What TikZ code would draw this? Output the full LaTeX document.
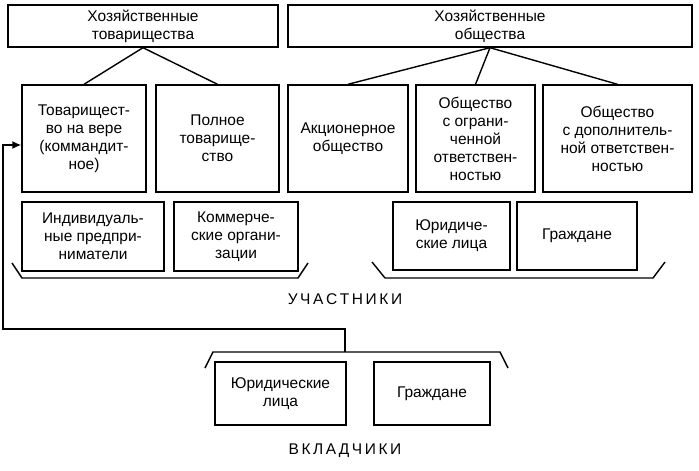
\documentclass[tikz,border=0pt]{standalone}
\usepackage{fontspec}
\setmainfont{Liberation Sans}
\usetikzlibrary{arrows.meta}
\begin{document}
\begin{tikzpicture}[x=1pt,y=-1pt,line width=1.4pt,
 bx/.style={draw,align=center,font=\fontsize{15.5}{18}\selectfont,inner sep=0pt}]
\useasboundingbox (0,0) rectangle (699,471);
\newcommand{\bxat}[6]{\node[bx,minimum width=#3-#1,minimum height=#4-#2] (#5) at ({(#1+#3)/2},{(#2+#4)/2}) {#6};}
\bxat{8}{5}{278}{47}{ht}{Хозяйственные\\товарищества}
\bxat{288}{5}{692}{47}{ho}{Хозяйственные\\общества}
\bxat{22}{85}{146}{192}{tv}{Товарищест-\\во на вере\\(коммандит-\\ное)}
\bxat{156}{85}{279}{192}{pt}{Полное\\товарище-\\ство}
\bxat{288}{85}{408}{192}{ao}{Акционерное\\общество}
\bxat{416}{85}{535}{192}{oo}{Общество\\с ограни-\\ченной\\ответствен-\\ностью}
\bxat{543}{85}{692}{192}{od}{Общество\\с дополнитель-\\ной ответствен-\\ностью}
\bxat{22}{202}{164}{271}{ip}{Индивидуаль-\\ные предпри-\\ниматели}
\bxat{174}{202}{298}{271}{ko}{Коммерче-\\ские органи-\\зации}
\bxat{393}{202}{510}{270}{ul}{Юридиче-\\ские лица}
\bxat{517}{202}{637}{270}{gr}{Граждане}
\bxat{215}{362}{346}{425}{ul2}{Юридические\\лица}
\bxat{374}{362}{490}{425}{gr2}{Граждане}
\node[font=\fontsize{15.5}{18}\selectfont] (uch) at (345,299) {У\,Ч\,А\,С\,Т\,Н\,И\,К\,И};
\node[font=\fontsize{15.5}{18}\selectfont] (vkl) at (345,451) {В\,К\,Л\,А\,Д\,Ч\,И\,К\,И};
\draw (ht.south) -- (tv.north); \draw (ht.south) -- (pt.north);
\draw (ho.south) -- (ao.north); \draw (ho.south) -- (oo.north); \draw (ho.south) -- (od.north);
\draw (12,263) -- (22,278) -- (298,278) -- (308,263);
\draw (372,262) -- (385,278) -- (653,278) -- (665,262);
\coordinate (b1) at (345,352);
\draw (205,368) -- (213,352) -- (500,352) -- (508,368);
\draw[-{Latex[length=9pt,width=8pt]}] (b1) -- (345,329) -- (3,329) -- (3,145) -- (tv.west |- 0,145);
\end{tikzpicture}
\end{document}
